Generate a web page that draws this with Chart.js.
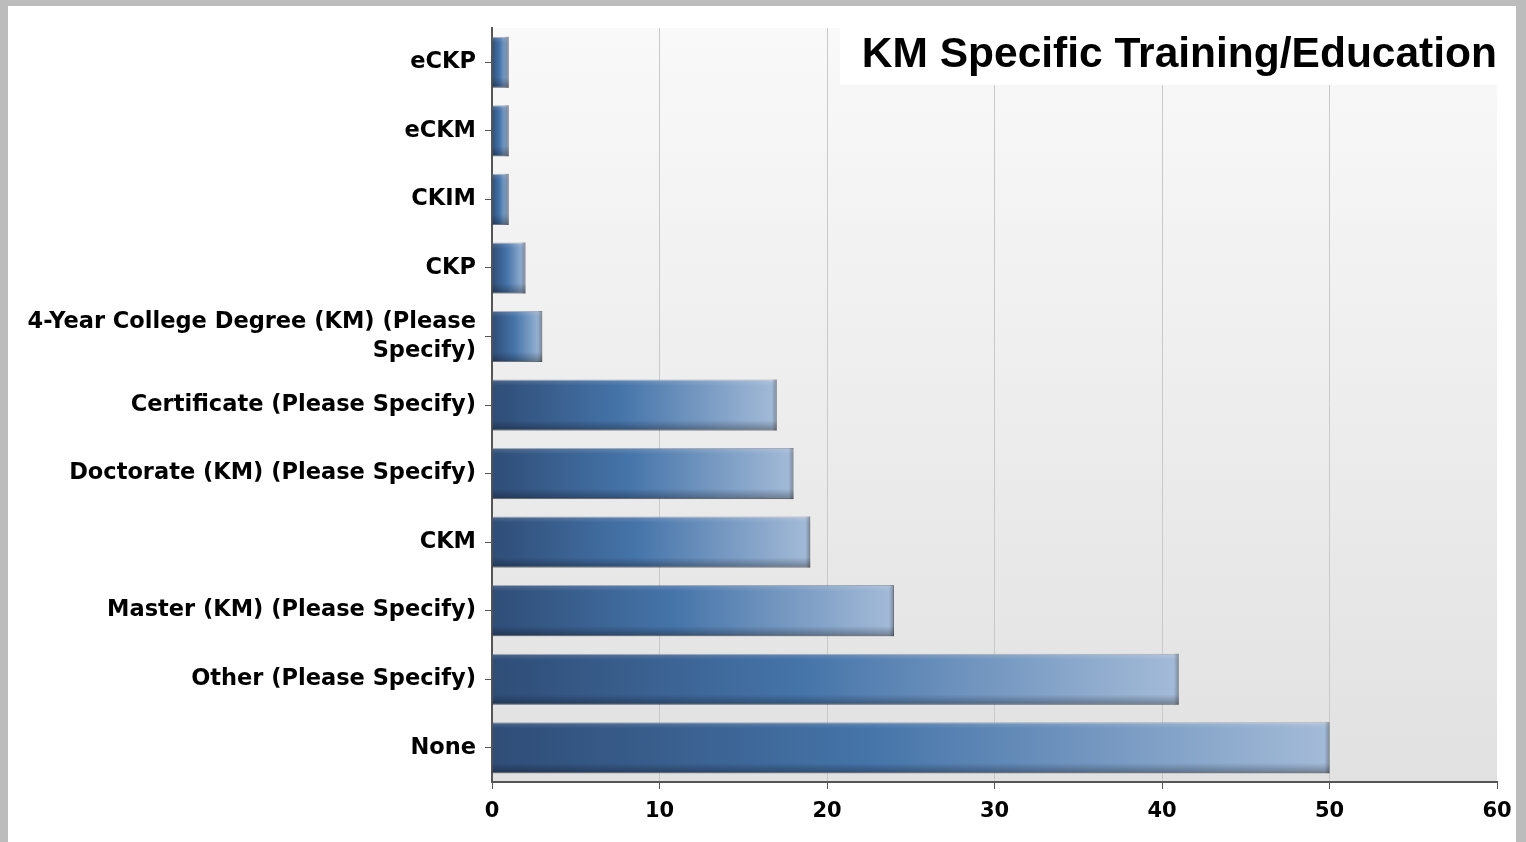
<!DOCTYPE html>
<html>
<head>
<meta charset="utf-8">
<script src="https://cdn.jsdelivr.net/npm/chart.js@4.4.1/dist/chart.umd.min.js"></script>
<style>
  html, body { margin: 0; padding: 0; width: 1526px; height: 842px; overflow: hidden; background: #bcbcbc; }
  #frame { position: absolute; left: 8px; top: 6px; width: 1508px; height: 836px; background: #ffffff; }
  canvas { display: block; }
</style>
</head>
<body>
<div id="frame"><canvas id="chart" width="1508" height="836"></canvas></div>
<script>
// Survey answers and how many respondents picked each one
const categories = [
  'eCKP',
  'eCKM',
  'CKIM',
  'CKP',
  ['4-Year College Degree (KM) (Please', 'Specify)'],
  'Certificate (Please Specify)',
  'Doctorate (KM) (Please Specify)',
  'CKM',
  'Master (KM) (Please Specify)',
  'Other (Please Specify)',
  'None'
];
const counts = [1, 1, 1, 2, 3, 17, 18, 19, 24, 41, 50];
const xTicks = [0, 10, 20, 30, 40, 50, 60];
const chartTitle = 'KM Specific Training/Education';

const tickFont = { family: "'DejaVu Sans', Verdana, sans-serif", weight: 'bold', size: 22.5, lineHeight: 1.29 };

// Light vertical wash behind the bars
const plotBackground = {
  id: 'plotBackground',
  beforeDraw(chart) {
    const { ctx, chartArea: a } = chart;
    const g = ctx.createLinearGradient(0, a.top, 0, a.bottom);
    g.addColorStop(0, '#f9f9f9');
    g.addColorStop(1, '#e1e1e1');
    ctx.save();
    ctx.fillStyle = g;
    ctx.fillRect(a.left, a.top, a.right - a.left, a.bottom - a.top);
    ctx.restore();
  }
};

// Bevel shading on top of each bar: soft top highlight, dark lower edge, shaded end cap
const barBevel = {
  id: 'barBevel',
  afterDatasetsDraw(chart) {
    const ctx = chart.ctx;
    const meta = chart.getDatasetMeta(0);
    ctx.save();
    meta.data.forEach(bar => {
      const { x, y, base, height } = bar.getProps(['x', 'y', 'base', 'height'], true);
      const top = y - height / 2, bot = y + height / 2;
      const left = Math.min(base, x), right = Math.max(base, x);
      const vg = ctx.createLinearGradient(0, top, 0, bot);
      vg.addColorStop(0, 'rgba(255,255,255,0.16)');
      vg.addColorStop(0.12, 'rgba(255,255,255,0)');
      vg.addColorStop(0.8, 'rgba(0,0,0,0)');
      vg.addColorStop(1, 'rgba(0,0,0,0.32)');
      ctx.fillStyle = vg;
      ctx.fillRect(left, top, right - left, height);
      const hg = ctx.createLinearGradient(right - 5, 0, right, 0);
      hg.addColorStop(0, 'rgba(0,0,0,0)');
      hg.addColorStop(1, 'rgba(0,0,0,0.28)');
      ctx.fillStyle = hg;
      ctx.fillRect(right - 5, top, 5, height);
    });
    ctx.restore();
  }
};

// Title on a white panel in the upper right corner
const cornerTitle = {
  id: 'cornerTitle',
  afterDraw(chart) {
    const { ctx, chartArea: a } = chart;
    ctx.save();
    ctx.fillStyle = '#ffffff';
    ctx.fillRect(832, 0, chart.width - 832, 79);
    ctx.fillStyle = '#000000';
    ctx.font = "bold 42.5px 'Liberation Sans', Arial, sans-serif";
    ctx.textAlign = 'right';
    ctx.textBaseline = 'alphabetic';
    ctx.fillText(chartTitle, a.right, 61);
    ctx.restore();
  }
};

new Chart(document.getElementById('chart'), {
  type: 'bar',
  data: {
    labels: categories,
    datasets: [{
      data: counts,
      backgroundColor(ctx) {
        const chart = ctx.chart;
        if (!chart.chartArea || ctx.type !== 'data') return '#4574a9';
        const xs = chart.scales.x;
        const x0 = xs.getPixelForValue(0);
        const x1 = xs.getPixelForValue(ctx.raw);
        const g = chart.ctx.createLinearGradient(x0, 0, x1, 0);
        g.addColorStop(0, '#2f4d77');
        g.addColorStop(0.45, '#4574a9');
        g.addColorStop(1, '#a4bbd8');
        return g;
      },
      borderColor: 'rgba(40,60,95,0.45)',
      borderWidth: 1,
      categoryPercentage: 1,
      barPercentage: 0.745
    }]
  },
  options: {
    indexAxis: 'y',
    responsive: false,
    animation: false,
    devicePixelRatio: 1,
    layout: { padding: { top: 22, right: 19, left: 0, bottom: 0 } },
    plugins: { legend: { display: false }, tooltip: { enabled: false }, title: { display: false } },
    scales: {
      x: {
        min: xTicks[0],
        max: xTicks[xTicks.length - 1],
        afterBuildTicks(scale) { scale.ticks = xTicks.map(v => ({ value: v })); },
        afterFit(scale) {
          scale.height = 60;
          scale.paddingLeft = 0;
          scale.paddingRight = 0;
        },
        ticks: { color: '#000', font: { family: tickFont.family, weight: 'bold', size: 21 }, padding: 10 },
        grid: {
          color: (c) => (c.tick && c.tick.value === 60) ? 'rgba(0,0,0,0)' : '#c9c9c9',
          tickColor: '#555',
          tickLength: 7,
          lineWidth: 1
        },
        border: { color: '#555', width: 2 }
      },
      y: {
        afterFit(scale) {
          scale.width = 484;
          scale.paddingTop = 0;
          scale.paddingBottom = 0;
        },
        ticks: { color: '#000', font: tickFont, padding: 9 },
        grid: { offset: false, drawOnChartArea: false, tickColor: '#555', tickLength: 7 },
        border: { color: '#555', width: 2 }
      }
    }
  },
  plugins: [plotBackground, barBevel, cornerTitle]
});
</script>
</body>
</html>
